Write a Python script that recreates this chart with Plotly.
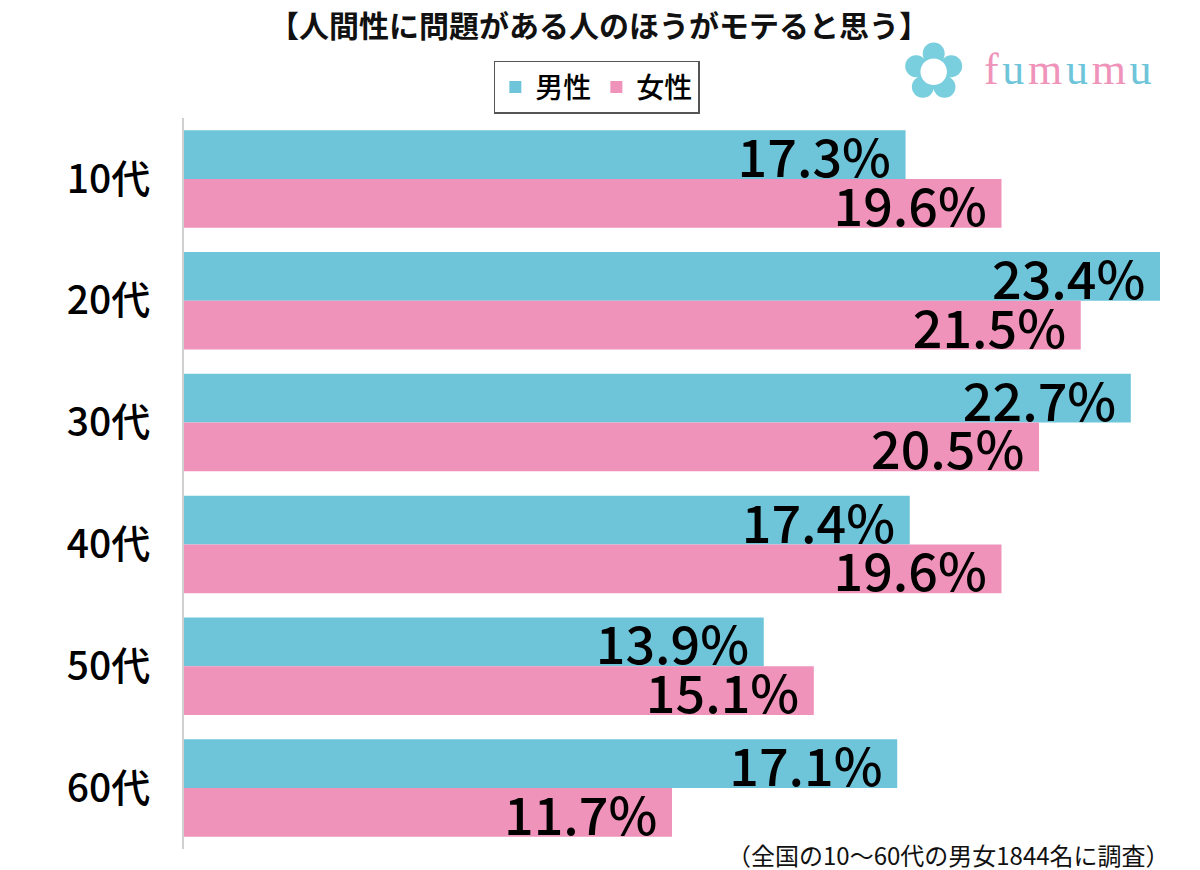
import plotly.graph_objects as go

## -- Data -- ##
ages = ['10代', '20代', '30代', '40代', '50代', '60代']
male = [17.3, 23.4, 22.7, 17.4, 13.9, 17.1]
female = [19.6, 21.5, 20.5, 19.6, 15.1, 11.7]

title_text = '【人間性に問題がある人のほうがモテると思う】'
note_text = '（全国の10～60代の男女1844名に調査）'

teal = '#6EC5D9'
pink = '#EF93BA'
font_family = 'Noto Sans CJK JP, Noto Sans, sans-serif'

fig = go.Figure()

for name, vals, col in [('男性', male, teal), ('女性', female, pink)]:
    fig.add_trace(go.Bar(
        y=ages, x=vals, name=name, orientation='h',
        marker=dict(color=col, line=dict(width=0)),
        text=[f'{v:.1f}%&nbsp;' for v in vals],
        textposition='inside', insidetextanchor='end',
        textfont=dict(size=52, color='black', family=font_family, weight=500),
        cliponaxis=False,
    ))

## -- Title, note, logo -- ##
fig.add_annotation(text=f'<b>{title_text}</b>', xref='paper', yref='paper',
                   x=0.425, y=1.128, xanchor='center', yanchor='middle',
                   showarrow=False, font=dict(size=30, color='#111', family=font_family))
fig.add_annotation(text=note_text, xref='paper', yref='paper',
                   x=1.012, y=-0.008, xanchor='right', yanchor='middle',
                   showarrow=False, font=dict(size=24, color='#111', family=font_family))
logo = '\u200a'.join(f"<span style='color:{pink if i % 2 == 0 else teal}'>{ch}</span>"
                     for i, ch in enumerate('fumumu'))
fig.add_annotation(text=logo, xref='paper', yref='paper', x=0.994, y=1.066,
                   xanchor='right', yanchor='middle', showarrow=False,
                   font=dict(size=44, family='Liberation Serif, serif'))
fig.add_annotation(text='✿', xref='paper', yref='paper', x=0.768, y=1.064,
                   xanchor='center', yanchor='middle', showarrow=False,
                   font=dict(size=78, color='#7ACFDF', family='DejaVu Sans'))

fig.update_layout(
    width=1200, height=870,
    margin=dict(l=176, r=48, t=110, b=29),
    paper_bgcolor='white', plot_bgcolor='white',
    barmode='group', bargap=0.2, bargroupgap=0,
    uniformtext=dict(minsize=52, mode='show'),
    font=dict(family=font_family, color='black'),
    showlegend=True,
    legend=dict(orientation='h', x=0.423, y=1.042, xanchor='center', yanchor='middle',
                bordercolor='#555', borderwidth=1.5, font=dict(size=28, weight=500),
                itemwidth=30, tracegroupgap=0),
)
fig.update_xaxes(range=[0, 23.4], showgrid=False, showticklabels=False,
                 zeroline=False, showline=False, fixedrange=True)
fig.update_yaxes(autorange='reversed', showgrid=False, showline=True,
                 linecolor='#d0d0d0', linewidth=2, ticks='', ticklabelstandoff=24,
                 tickfont=dict(size=39, color='black', weight=500))

fig.write_html('out.html')
